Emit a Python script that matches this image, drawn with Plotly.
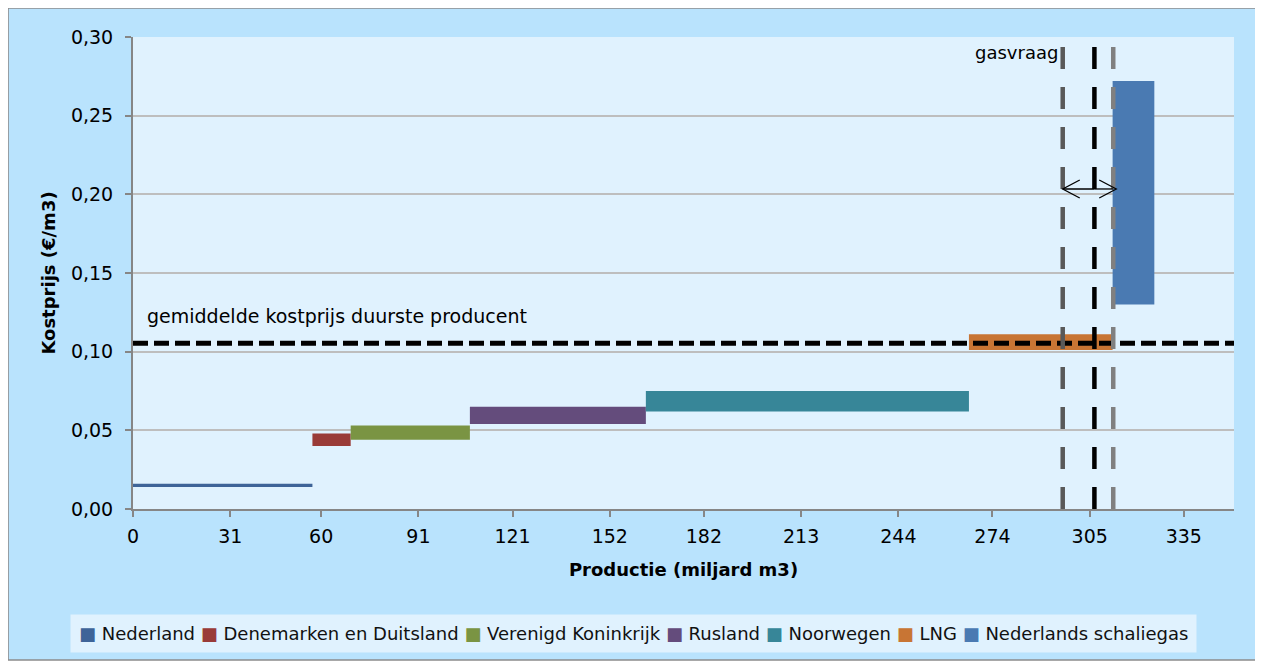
import numpy as np
import plotly.graph_objects as go

# aanbodcurve aardgas: producenten op volgorde van kostprijs
producenten = ["Nederland", "Denemarken en Duitsland", "Verenigd Koninkrijk",
               "Rusland", "Noorwegen", "LNG", "Nederlands schaliegas"]
productie = [57.2, 12.2, 38.0, 56.1, 103.0, 45.8, 13.3]          # miljard m3
kost_laag = [0.014, 0.040, 0.044, 0.054, 0.062, 0.101, 0.130]    # euro/m3
kost_hoog = [0.016, 0.048, 0.053, 0.065, 0.075, 0.111, 0.272]    # euro/m3
kleuren = ["#3E6498", "#993B38", "#7A9443", "#644C7C", "#378698", "#C87534", "#4A7AB2"]

x_ticks = [0, 31, 60, 91, 121, 152, 182, 213, 244, 274, 305, 335]

gasvraag = [296.4, 306.5, 312.5]       # laag, midden, hoog
gasvraag_kleuren = ["#595959", "#000000", "#808080"]
gem_kostprijs_duurste = 0.1053
pijl_hoogte = 0.2034
lijn_top = 0.295

FONT = "DejaVu Sans"

eind = np.cumsum(productie)
start = eind - np.array(productie)

fig = go.Figure()

for i, naam in enumerate(producenten):
    fig.add_trace(go.Bar(
        x=[(start[i] + eind[i]) / 2],
        y=[kost_hoog[i] - kost_laag[i]],
        base=[kost_laag[i]],
        width=[productie[i]],
        name=naam,
        marker=dict(color=kleuren[i], line=dict(width=0)),
        showlegend=False,
    ))

shapes = []
# kader om de hele grafiek
shapes.append(dict(type="rect", xref="paper", yref="paper", layer="below",
                   x0=-0.1135, x1=1.0227, y0=-0.3199, y1=1.0614,
                   fillcolor="#B9E3FD", line=dict(color="#8C8C8C", width=1.5)))
shapes.append(dict(type="rect", xref="paper", yref="paper", layer="below",
                   x0=0, x1=1, y0=0, y1=1, fillcolor="#E0F2FE", line=dict(width=0)))

# gemiddelde kostprijs duurste producent
shapes.append(dict(type="line", xref="paper", yref="y", x0=0, x1=1,
                   y0=gem_kostprijs_duurste, y1=gem_kostprijs_duurste,
                   line=dict(color="black", width=5, dash="15px,6px")))

# gasvraag (laag / midden / hoog)
for v, c in zip(gasvraag, gasvraag_kleuren):
    shapes.append(dict(type="line", xref="x", yref="y", x0=v, x1=v, y0=0, y1=lijn_top,
                       line=dict(color=c, width=4.5, dash="22px,18px")))

# pijlen
for doel in (gasvraag[0], gasvraag[2]):
    shapes.append(dict(type="line", xref="x", yref="y", x0=gasvraag[1], x1=doel,
                       y0=pijl_hoogte, y1=pijl_hoogte, line=dict(color="black", width=1.3)))
shapes.append(dict(type="path", xref="x", yref="y", xsizemode="pixel", ysizemode="pixel",
                   xanchor=gasvraag[0], yanchor=pijl_hoogte,
                   path="M 17,9 L 0,0 L 17,-9", line=dict(color="black", width=1.3)))
shapes.append(dict(type="path", xref="x", yref="y", xsizemode="pixel", ysizemode="pixel",
                   xanchor=gasvraag[2], yanchor=pijl_hoogte,
                   path="M -14,9 L 3,0 L -14,-9", line=dict(color="black", width=1.3)))

# legenda als een regel tekst
legenda = " ".join(
    f'<span style="color:{c}">■</span> {n}' for n, c in zip(producenten, kleuren)
)

annotations = [
    dict(x=gasvraag[0], y=0.29, xref="x", yref="y", text="gasvraag", showarrow=False,
         xanchor="right", yanchor="middle", xshift=-3, font=dict(size=18, color="black")),
    dict(x=3.8, y=0.1228, xref="x", yref="y", text="gemiddelde kostprijs duurste producent",
         showarrow=False, xanchor="left", yanchor="middle", font=dict(size=19, color="black")),
    dict(x=0.455, y=-0.263, xref="paper", yref="paper", text=legenda, showarrow=False,
         xanchor="center", yanchor="middle", bgcolor="#E0F2FE", borderpad=8,
         font=dict(size=18, color="#111111")),
]

fig.update_layout(
    width=1255, height=656,
    margin=dict(l=125, r=29, t=29, b=155),
    paper_bgcolor="white",
    plot_bgcolor="#E0F2FE",
    barmode="overlay",
    separators=",.",
    font=dict(family=FONT, size=19, color="black"),
    shapes=shapes,
    annotations=annotations,
    showlegend=False,
)

fig.update_xaxes(
    range=[0, 351], tickvals=x_ticks, showgrid=False, zeroline=False,
    showline=True, linecolor="#868686", linewidth=2,
    ticks="outside", ticklen=6, tickcolor="#868686", tickwidth=2,
    ticklabelstandoff=3, tickfont=dict(size=19),
    title=dict(text="<b>Productie (miljard m3)</b>", font=dict(size=18), standoff=18),
)
fig.update_yaxes(
    range=[0, 0.30], dtick=0.05, tickformat=".2f", showgrid=True,
    gridcolor="#BEBEBE", gridwidth=1.5, zeroline=False,
    showline=True, linecolor="#868686", linewidth=2,
    ticks="outside", ticklen=6, tickcolor="#868686", tickwidth=2,
    ticklabelstandoff=8, tickfont=dict(size=19),
    title=dict(text="<b>Kostprijs (€/m3)</b>", font=dict(size=18), standoff=11),
)

fig.write_html("out.html")
